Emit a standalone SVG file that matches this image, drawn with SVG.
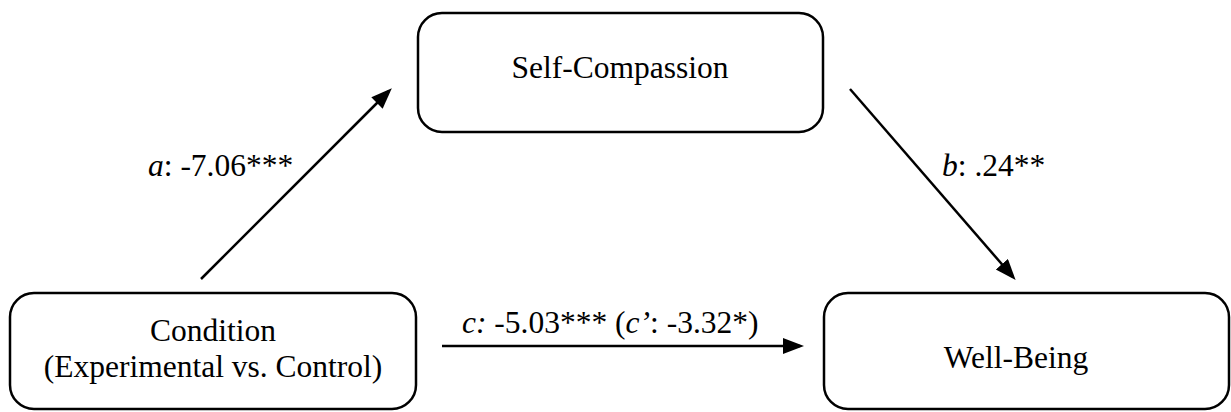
<svg xmlns="http://www.w3.org/2000/svg" width="1231" height="412" viewBox="0 0 1231 412">
<style>
.box{fill:#fff;stroke:#000;stroke-width:2.5}
.t{font-family:"Liberation Serif","Times New Roman",serif;font-size:31.5px;fill:#000}
.lbl{font-family:"Liberation Serif","Times New Roman",serif;font-size:31.5px;fill:#000}
.c{stroke:#000;stroke-width:2.5;fill:none}
</style>
<defs>
<marker id="ah" markerUnits="userSpaceOnUse" markerWidth="22" markerHeight="18" refX="17" refY="8" orient="auto">
<path d="M0,0 L21,8 L0,16 z" fill="#000"/>
</marker>
</defs>
<rect width="1231" height="412" fill="#fff"/>
<g id="connectors">
<line class="c" x1="201" y1="279" x2="389" y2="91" marker-end="url(#ah)"/>
<line class="c" x1="850" y1="89" x2="1013" y2="277" marker-end="url(#ah)"/>
<line class="c" x1="442" y1="346" x2="800" y2="346" marker-end="url(#ah)"/>
<text class="lbl" x="148" y="176"><tspan font-style="italic">a</tspan>: -7.06***</text>
<text class="lbl" x="942" y="176"><tspan font-style="italic">b</tspan>: .24**</text>
<text class="lbl" x="462" y="333"><tspan font-style="italic">c:</tspan> -5.03*** (<tspan font-style="italic">c’</tspan>: -3.32*)</text>
</g>
<g id="self-compassion">
<rect class="box" x="418" y="13" width="405" height="119" rx="24"/>
<text class="t" x="620" y="78" text-anchor="middle">Self-Compassion</text>
</g>
<g id="condition">
<rect class="box" x="10" y="293" width="406" height="116" rx="24"/>
<text class="t" x="213" y="341" text-anchor="middle">Condition</text>
<text class="t" x="213" y="377" text-anchor="middle">(Experimental vs. Control)</text>
</g>
<g id="well-being">
<rect class="box" x="824" y="293" width="405" height="116" rx="24"/>
<text class="t" x="1016" y="368" text-anchor="middle">Well-Being</text>
</g>
</svg>
